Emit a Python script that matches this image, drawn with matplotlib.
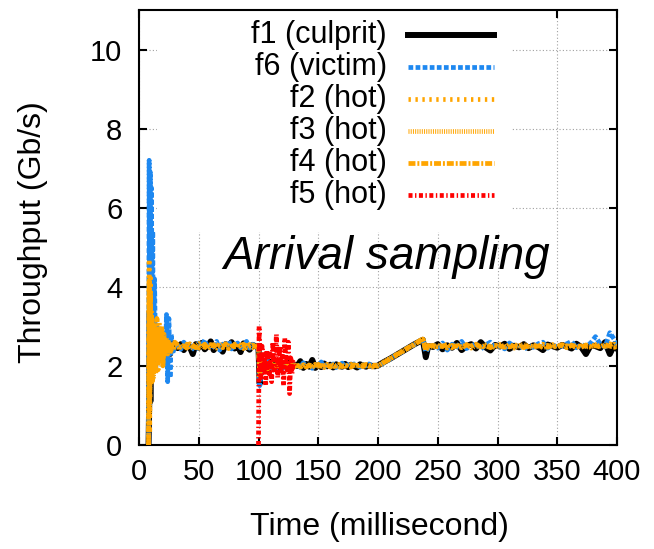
import matplotlib
matplotlib.use("Agg")
import matplotlib.pyplot as plt
from matplotlib.lines import Line2D
from matplotlib.patches import Rectangle

plt.rcParams['font.family'] = ['Liberation Sans', 'DejaVu Sans']
plt.rcParams['lines.scale_dashes'] = False

# time axis (ms) shared by f1, f2, f3, f4, f6
time_ms = [8, 8.5, 9, 9.5, 10, 10.5, 11, 11.5, 12, 13, 14, 15, 16, 17, 18, 19, 20, 21, 22, 23, 24, 25, 26, 27, 28, 30,
           32.5, 35, 37.5, 40, 42.5, 45, 47.5, 50, 52.5, 55, 57.5, 60, 62.5, 65, 67.5, 70, 72.5, 75, 77.5, 80,
           82.5, 85, 87.5, 90, 92.5, 95, 97.5,
           100, 101, 102, 104, 106, 108, 110, 112, 114, 116, 118, 120, 122, 124, 126, 128, 130,
           132.5, 135, 137.5, 140, 142.5, 145, 147.5, 150, 152.5, 155, 157.5, 160, 162.5, 165, 167.5, 170,
           172.5, 175, 177.5, 180, 182.5, 185, 187.5, 190, 192.5, 195, 197.5, 200,
           205, 210, 215, 220, 225, 230, 235, 237.5, 240, 242,
           246, 250, 254, 258, 262, 266, 270, 274, 278, 282, 286, 290, 294, 298, 302, 306, 310, 314, 318, 322,
           326, 330, 334, 338, 342, 346, 350, 354, 358, 362, 366, 370, 374, 378, 382, 386, 390, 394, 398, 400]

f1 = [0.0, 1.0, 3.4, 1.1, 2.9, 1.9, 3.0, 2.0, 2.7, 2.2, 2.9, 2.1, 2.6, 2.3, 2.8, 2.2, 2.7, 2.4, 2.6, 2.3, 2.6, 2.4, 2.3, 2.6, 2.4, 2.5,
      2.45, 2.55, 2.40, 2.52, 2.48, 2.30, 2.55, 2.46, 2.58, 2.42, 2.50, 2.62, 2.40, 2.51, 2.47, 2.36, 2.55, 2.49, 2.60, 2.44,
      2.52, 2.35, 2.57, 2.48, 2.41, 2.53, 2.50,
      2.45, 1.55, 2.10, 1.95, 2.05, 1.90, 2.10, 2.00, 1.95, 2.08, 1.92, 2.05, 2.00, 1.96, 2.10, 1.98, 2.02,
      2.00, 2.12, 1.95, 2.05, 1.98, 2.15, 1.95, 2.02, 1.97, 2.06, 1.99, 2.03, 1.96, 2.04, 2.00, 1.98,
      2.05, 1.97, 2.03, 2.00, 1.96, 2.04, 2.01, 1.98, 2.02, 2.00, 1.99, 2.01,
      2.10, 2.18, 2.27, 2.36, 2.45, 2.54, 2.62, 2.66, 2.22, 2.50,
      2.48, 2.55, 2.42, 2.52, 2.46, 2.58, 2.40, 2.50, 2.55, 2.44, 2.60, 2.47, 2.39, 2.53, 2.49, 2.56, 2.43, 2.51, 2.47, 2.55,
      2.45, 2.52, 2.48, 2.40, 2.54, 2.50, 2.46, 2.53, 2.49, 2.44, 2.56, 2.48, 2.30, 2.52, 2.50, 2.45, 2.60, 2.30, 2.55, 2.45]

f6 = [0.2, 7.2, 1.0, 6.9, 1.8, 6.5, 1.6, 5.4, 2.0, 4.2, 1.9, 3.0, 2.2, 2.8, 2.1, 2.9, 2.3, 2.6, 2.0, 3.3, 1.6, 3.2, 1.7, 2.8, 2.3, 2.5,
      2.52, 2.42, 2.60, 2.47, 2.55, 2.45, 2.38, 2.58, 2.50, 2.66, 2.44, 2.53, 2.48, 2.62, 2.40, 2.55, 2.47, 2.64, 2.43, 2.52,
      2.58, 2.46, 2.50, 2.62, 2.45, 2.55, 2.48,
      2.40, 1.50, 1.75, 2.10, 1.90, 2.12, 1.95, 2.06, 1.88, 2.10, 2.00, 1.93, 2.08, 2.02, 1.95, 2.06, 2.00,
      2.04, 1.96, 2.08, 1.98, 2.02, 1.94, 2.06, 2.00, 2.10, 1.97, 2.03, 1.98, 2.05, 1.96, 2.02, 2.07,
      1.99, 2.03, 1.97, 2.05, 2.01, 1.97, 2.03, 2.00, 2.05, 1.98, 2.02, 2.00,
      2.08, 2.17, 2.28, 2.35, 2.46, 2.53, 2.63, 2.68, 2.35, 2.45,
      2.52, 2.45, 2.58, 2.40, 2.55, 2.48, 2.62, 2.44, 2.50, 2.57, 2.42, 2.53, 2.60, 2.46, 2.51, 2.43, 2.58, 2.49, 2.55, 2.41,
      2.52, 2.47, 2.56, 2.60, 2.45, 2.53, 2.48, 2.51, 2.56, 2.62, 2.46, 2.54, 2.50, 2.58, 2.74, 2.55, 2.48, 2.84, 2.66, 2.52]

f2 = [0.0, 4.7, 0.3, 4.3, 1.5, 3.4, 1.8, 3.1, 2.0, 3.0, 2.1, 2.8, 1.9, 3.1, 2.2, 2.9, 2.1, 2.7, 2.3, 2.6, 2.4, 2.5, 2.3, 2.6, 2.4, 2.5,
      2.50, 2.46, 2.54, 2.44, 2.52, 2.48, 2.56, 2.45, 2.51, 2.47, 2.55, 2.43, 2.52, 2.49, 2.56, 2.46, 2.50, 2.44, 2.53, 2.48,
      2.55, 2.47, 2.51, 2.45, 2.54, 2.49, 2.50,
      2.48, 1.80, 2.15, 1.92, 2.08, 1.96, 2.04, 1.94, 2.10, 1.98, 2.03, 1.95, 2.06, 1.99, 2.02, 1.97, 2.01,
      2.02, 1.97, 2.04, 1.99, 2.05, 1.96, 2.03, 2.00, 1.98, 2.04, 1.97, 2.02, 2.00, 1.96, 2.03, 1.99,
      2.02, 1.98, 2.04, 1.97, 2.01, 1.99, 2.03, 1.98, 2.00, 2.02, 1.99, 2.00,
      2.09, 2.18, 2.27, 2.36, 2.45, 2.54, 2.63, 2.70, 2.40, 2.48,
      2.50, 2.47, 2.53, 2.45, 2.52, 2.48, 2.55, 2.46, 2.51, 2.49, 2.54, 2.45, 2.50, 2.53, 2.47, 2.52, 2.48, 2.55, 2.46, 2.51,
      2.49, 2.53, 2.47, 2.50, 2.52, 2.46, 2.54, 2.49, 2.51, 2.47, 2.53, 2.48, 2.50, 2.55, 2.46, 2.52, 2.49, 2.56, 2.51, 2.50]

f3 = [0.0, 3.9, 0.8, 3.6, 1.7, 3.2, 2.1, 2.9, 1.7, 3.1, 2.3, 2.7, 2.0, 2.9, 2.4, 3.0, 2.2, 2.8, 2.4, 2.7, 2.3, 2.6, 2.5, 2.4, 2.6, 2.5,
      2.47, 2.53, 2.45, 2.55, 2.49, 2.44, 2.52, 2.57, 2.46, 2.50, 2.43, 2.54, 2.48, 2.45, 2.52, 2.56, 2.47, 2.51, 2.46, 2.55,
      2.49, 2.53, 2.44, 2.52, 2.48, 2.46, 2.51,
      2.50, 1.90, 2.05, 2.12, 1.94, 2.06, 1.97, 2.09, 2.00, 1.93, 2.07, 2.01, 1.96, 2.05, 1.99, 2.03, 1.98,
      1.98, 2.03, 1.96, 2.05, 2.00, 1.97, 2.04, 1.99, 2.02, 1.96, 2.04, 1.99, 2.03, 2.01, 1.97, 2.02,
      1.99, 2.04, 1.98, 2.02, 2.00, 2.03, 1.98, 2.01, 1.99, 2.03, 2.00, 2.01,
      2.10, 2.19, 2.26, 2.37, 2.44, 2.55, 2.62, 2.68, 2.45, 2.52,
      2.47, 2.53, 2.49, 2.55, 2.46, 2.52, 2.48, 2.54, 2.45, 2.51, 2.47, 2.53, 2.49, 2.46, 2.54, 2.48, 2.52, 2.45, 2.51, 2.55,
      2.47, 2.50, 2.53, 2.46, 2.49, 2.54, 2.47, 2.52, 2.48, 2.53, 2.46, 2.51, 2.49, 2.47, 2.54, 2.50, 2.53, 2.48, 2.55, 2.49]

f4 = [0.0, 4.2, 1.2, 3.8, 2.0, 3.3, 1.6, 3.0, 2.2, 2.8, 1.8, 3.2, 2.1, 2.7, 2.3, 3.0, 2.0, 2.6, 2.5, 2.4, 2.6, 2.4, 2.5, 2.5, 2.4, 2.6,
      2.53, 2.47, 2.51, 2.45, 2.56, 2.50, 2.46, 2.53, 2.48, 2.55, 2.44, 2.50, 2.54, 2.47, 2.51, 2.49, 2.56, 2.45, 2.50, 2.53,
      2.47, 2.51, 2.55, 2.46, 2.50, 2.53, 2.49,
      2.46, 1.70, 2.00, 2.08, 1.98, 1.92, 2.06, 2.02, 1.96, 2.04, 1.97, 2.08, 1.99, 2.01, 1.96, 2.04, 2.00,
      2.01, 1.98, 2.03, 1.97, 2.02, 2.00, 1.97, 2.04, 1.99, 2.01, 2.03, 1.97, 2.02, 1.99, 2.04, 1.98,
      2.01, 2.00, 1.97, 2.03, 1.99, 2.02, 1.98, 2.04, 2.00, 1.97, 2.02, 2.00,
      2.09, 2.17, 2.28, 2.35, 2.46, 2.53, 2.64, 2.69, 2.38, 2.50,
      2.52, 2.48, 2.50, 2.54, 2.47, 2.51, 2.46, 2.53, 2.49, 2.55, 2.48, 2.51, 2.46, 2.52, 2.50, 2.47, 2.54, 2.49, 2.52, 2.46,
      2.53, 2.48, 2.50, 2.55, 2.47, 2.51, 2.49, 2.54, 2.46, 2.52, 2.50, 2.47, 2.53, 2.49, 2.51, 2.48, 2.54, 2.50, 2.47, 2.52]

# f5 only runs for ~30 ms after it arrives
time_f5 = [100, 100.5, 101, 102, 103, 104, 105, 106, 107, 108, 109, 110, 111, 112, 113, 114, 115, 116, 117, 118,
           119, 120, 121, 122, 123, 124, 125, 126, 127, 128, 129, 130]
f5 = [0.0, 3.0, 2.1, 1.7, 2.5, 1.9, 2.2, 1.5, 2.4, 2.0, 1.8, 2.3, 1.6, 2.6, 1.9, 2.2, 2.8, 1.7, 2.1, 2.5,
      1.8, 2.3, 1.5, 2.7, 2.0, 1.9, 2.6, 1.3, 2.2, 1.8, 2.1, 2.0]

labels = ['f1 (culprit)', 'f6 (victim)', 'f2 (hot)', 'f3 (hot)', 'f4 (hot)', 'f5 (hot)']
xticks = [0, 50, 100, 150, 200, 250, 300, 350, 400]
yticks = [0, 2, 4, 6, 8, 10]

orange = '#ffa500'
styles = [
    dict(color='black', lw=4.3, linestyle='-'),
    dict(color='#1e88f0', lw=3.4, linestyle=(0, (3.4, 1.7))),
    dict(color=orange, lw=3.4, linestyle=(0, (1.7, 3.3))),
    dict(color=orange, lw=3.4, linestyle=(0, (0.7, 0.9))),
    dict(color=orange, lw=3.4, linestyle=(0, (5.0, 1.4, 1.4, 1.4))),
    dict(color='#ff0000', lw=3.4, linestyle=(0, (2.9, 1.8, 1.0, 1.8))),
]
series = [(time_ms, f1), (time_ms, f6), (time_ms, f2), (time_ms, f3), (time_ms, f4), (time_f5, f5)]

fig = plt.figure(figsize=(6.54, 5.49), dpi=100)
ax = fig.add_axes([139/654, 1 - 445/549, 478/654, 435/549])

for (t, v), st in zip(series, styles):
    ax.plot(t, v, zorder=3, **st)

ax.set_xlim(0, 400)
ax.set_ylim(0, 11)
ax.set_xticks(xticks)
ax.set_yticks(yticks)
ax.tick_params(direction='in', length=6, width=1.5, top=True, right=True,
               labelsize=21)
ax.tick_params(axis='x', pad=9)
ax.tick_params(axis='y', pad=12)
for s in ax.spines.values():
    s.set_linewidth(1.5)
ax.set_axisbelow(True)
ax.grid(True, color='#a0a0a0', linestyle=(0, (0.8, 1.6)), linewidth=0.8)

ax.set_xlabel('Time (millisecond)', fontsize=23)
ax.set_ylabel('Throughput (Gb/s)', fontsize=23)
ax.xaxis.set_label_coords(0.504, -0.155)
ax.yaxis.set_label_coords(-0.19, 0.49)

# opaque key box like gnuplot
ax.add_patch(Rectangle((0.038, 0.49), 0.742, 0.51, transform=ax.transAxes,
                       facecolor='white', edgecolor='none', zorder=1))
rows = [0.9425, 0.869, 0.795, 0.722, 0.648, 0.575]
for lab, st, y in zip(labels, styles, rows):
    ax.text(0.519, y, lab, transform=ax.transAxes, ha='right', va='center',
            fontsize=22, zorder=4)
    ax.add_line(Line2D([0.563, 0.743], [y, y], transform=ax.transAxes,
                       clip_on=False, zorder=4, **st))

ax.text(207.5, 4.45, 'Arrival sampling', fontsize=33, style='italic',
        ha='center', va='baseline', zorder=4)

fig.savefig('out.png', dpi=100)
